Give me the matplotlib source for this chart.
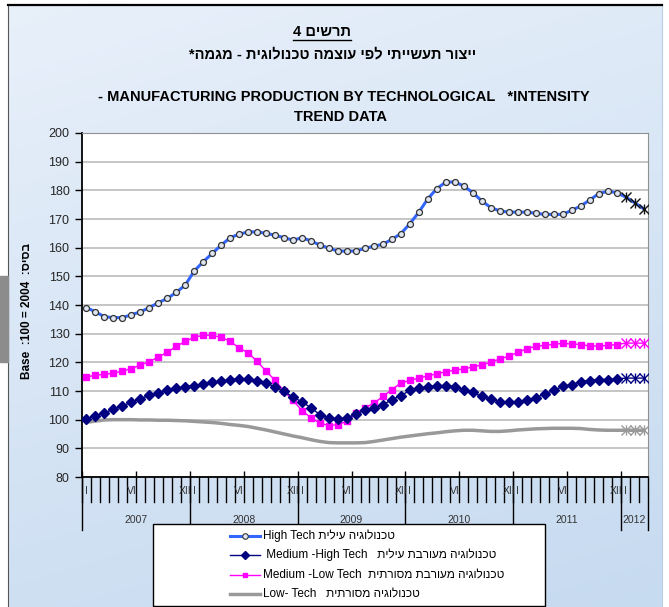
import numpy as np
import matplotlib
matplotlib.use('Agg')
import matplotlib.pyplot as plt
from matplotlib.lines import Line2D
from matplotlib.patches import Rectangle

# figure size in pixels (dpi 100)
W, H = 669, 607

years = ['2007', '2008', '2009', '2010', '2011', '2012']
months_in_year = [12, 12, 12, 12, 12, 3]
month_labels = {0: 'I', 5: 'VI', 11: 'XII'}

# monthly trend index, Jan 2007 - Mar 2012 (base 2004 = 100)
high_tech = [139.1, 137.6, 135.9, 135.6, 135.6, 136.6, 137.6, 139.1, 140.8, 142.3,
             144.4, 147.0, 151.9, 155.1, 158.0, 160.9, 163.5, 164.7, 165.5, 165.5,
             165.0, 164.3, 163.5, 162.6, 163.5, 162.3, 160.9, 159.8, 158.8, 158.8,
             158.8, 159.8, 160.5, 161.2, 162.9, 164.9, 168.4, 172.4, 177.1, 180.6,
             182.9, 182.9, 181.5, 179.2, 176.3, 174.0, 172.8, 172.4, 172.4, 172.4,
             172.0, 171.6, 171.6, 171.6, 173.0, 174.5, 176.6, 178.8, 179.7, 179.2,
             177.7, 175.7, 173.6]
med_high = [100.2, 101.4, 102.3, 103.7, 104.9, 106.0, 107.3, 108.5, 109.3, 110.2,
            110.9, 111.4, 111.9, 112.4, 113.0, 113.4, 114.0, 114.2, 114.2, 113.4,
            112.8, 111.4, 109.9, 107.8, 106.2, 104.1, 101.7, 100.6, 100.2, 100.6,
            102.0, 103.3, 103.9, 105.2, 107.0, 108.4, 110.2, 111.0, 111.4, 111.9,
            111.9, 111.4, 110.5, 109.5, 108.1, 107.2, 106.2, 106.0, 106.1, 106.7,
            107.6, 109.0, 110.2, 111.6, 112.2, 113.3, 113.6, 114.0, 114.0, 114.2,
            114.5, 114.5, 114.5]
med_low = [114.9, 115.5, 115.8, 116.2, 117.0, 117.8, 119.1, 120.2, 121.9, 123.5,
           125.6, 127.3, 128.8, 129.4, 129.4, 128.7, 127.3, 125.0, 123.3, 120.3,
           116.9, 113.7, 109.9, 106.7, 103.1, 100.6, 98.8, 97.9, 98.3, 99.4,
           102.3, 104.1, 105.8, 108.1, 110.5, 112.8, 113.7, 114.5, 115.3, 116.0,
           116.7, 117.3, 117.7, 118.4, 119.1, 120.0, 121.2, 122.1, 123.5, 124.7,
           125.6, 125.9, 126.3, 126.6, 126.4, 126.2, 125.7, 125.7, 125.9, 126.2,
           126.7, 126.7, 126.7]
low_tech = [99.1, 99.5, 99.9, 100.0, 100.0, 100.0, 99.9, 99.9, 99.8, 99.8,
            99.7, 99.6, 99.4, 99.2, 99.0, 98.7, 98.3, 98.0, 97.6, 97.0,
            96.4, 95.7, 95.0, 94.3, 93.7, 93.0, 92.4, 92.0, 91.9, 91.9,
            91.9, 92.0, 92.4, 92.9, 93.4, 93.9, 94.3, 94.7, 95.1, 95.4,
            95.8, 96.1, 96.3, 96.3, 96.1, 95.9, 95.9, 96.1, 96.4, 96.6,
            96.8, 96.9, 97.0, 97.0, 97.0, 96.9, 96.6, 96.4, 96.3, 96.3,
            96.3, 96.3, 96.3]
n_prelim = 3  # last months drawn with asterisk markers


def heb(s):
    # matplotlib has no bidi support, so hebrew is laid out reversed
    return s[::-1]


legend_labels = ['High Tech ' + heb('טכנולוגיה עילית'),
                 ' Medium -High Tech   ' + heb('טכנולוגיה מעורבת עילית'),
                 'Medium -Low Tech  ' + heb('טכנולוגיה מעורבת מסורתית'),
                 'Low- Tech   ' + heb('טכנולוגיה מסורתית')]

FONT = ['Liberation Sans', 'DejaVu Sans']
plt.rcParams['font.family'] = FONT


def fx(px):
    return px / W


def fy(py):
    return 1 - py / H


fig = plt.figure(figsize=(W / 100, H / 100), dpi=100)
fig.patch.set_facecolor('white')

# chart area with light blue gradient
bg = fig.add_axes([fx(8), 0, fx(662) - fx(8), fy(5)], zorder=-5)
yy, xx = np.mgrid[0:1:200j, 0:1:200j]
t = 0.75 * yy + 0.25 * xx
c_top = np.array([232, 240, 250]) / 255
c_bot = np.array([198, 218, 240]) / 255
img = c_top[None, None, :] * (1 - t[..., None]) + c_bot[None, None, :] * t[..., None]
bg.imshow(img, aspect='auto', extent=[0, 1, 0, 1])
bg.set_xticks([])
bg.set_yticks([])
bg.spines['top'].set_color('black')
bg.spines['top'].set_linewidth(1.6)
bg.spines['left'].set_color('#555555')
bg.spines['right'].set_color('#b8cce4')
bg.spines['bottom'].set_visible(False)

fig.add_artist(Rectangle((0, fy(362)), fx(8), (362 - 276) / H,
                         transform=fig.transFigure, color='#8c8c8c'))

# titles
t1 = fig.text(fx(322), fy(32), heb('תרשים 4'), ha='center', va='center',
              fontsize=10.5, fontweight='bold')
fig.text(fx(333), fy(54), heb('ייצור תעשייתי לפי עוצמה טכנולוגית - מגמה*'),
         ha='center', va='center', fontsize=10.5, fontweight='bold')
fig.text(fx(344), fy(97), '- MANUFACTURING PRODUCTION BY TECHNOLOGICAL   *INTENSITY',
         ha='center', va='center', fontsize=10.5, fontweight='bold')
fig.text(fx(341), fy(117), 'TREND DATA', ha='center', va='center',
         fontsize=10.5, fontweight='bold')

fig.text(fx(27), fy(311), 'Base  :100 = 2004  :' + heb('בסיס'), rotation=90,
         ha='center', va='center', fontsize=8.5, fontweight='bold')

# plot area
ax = fig.add_axes([fx(82), fy(477), fx(648) - fx(82), (477 - 133) / H])
n = len(high_tech)
x = np.arange(n) + 0.5
last = slice(n - n_prelim, n)


def asterisk(vals, color):
    ax.plot(x[last], vals[last], ls='none', marker='x', ms=6.5, mew=1, color=color, zorder=4)
    ax.plot(x[last], vals[last], ls='none', marker='|', ms=7.5, mew=1, color=color, zorder=4)


hi = np.array(high_tech)
mh = np.array(med_high)
ml = np.array(med_low)
lo = np.array(low_tech)

ax.plot(x, lo, color='#999999', lw=2.5, zorder=3)
asterisk(lo, '#999999')
ax.plot(x, ml, color='#ff00ff', lw=1, marker='s', ms=3.8, markevery=slice(0, n - n_prelim),
        zorder=3)
asterisk(ml, '#ff00ff')
ax.plot(x, mh, color='#000080', lw=1, marker='D', ms=5, markevery=slice(0, n - n_prelim),
        zorder=3)
asterisk(mh, '#000080')
ax.plot(x, hi, color='#3366ff', lw=2.2, marker='o', ms=4.3, mfc='#dfe6f2', mec='#333333',
        mew=0.9, markevery=slice(0, n - n_prelim), zorder=3)
asterisk(hi, '#111111')

ax.set_xlim(0, n)
ax.set_ylim(80, 200)
ax.set_yticks(range(80, 201, 10))
ax.yaxis.grid(True, color='#c0c0c0', lw=1.3)
ax.set_axisbelow(True)
ax.tick_params(axis='y', direction='out', length=5, width=1, labelsize=9,
               labelcolor='#262626', pad=4)
ax.set_xticks(np.arange(0, n + 1, 6))
ax.tick_params(axis='x', direction='in', length=4, width=1, labelbottom=False)
ax.spines['left'].set_linewidth(1.3)
ax.spines['bottom'].set_linewidth(1.3)
ax.spines['top'].set_color('#909090')
ax.spines['right'].set_color('#909090')

# two-level category labels below the plot
tr = ax.get_xaxis_transform()


def ay(py):
    return (477 - py) / (477 - 133)


start = 0
for yr, m in zip(years, months_in_year):
    ax.plot([start, start], [0, ay(530)], color='black', lw=1, transform=tr, clip_on=False)
    for k in range(m):
        ax.plot([start + k, start + k], [0, ay(502)], color='black', lw=1, transform=tr,
                clip_on=False)
        if k in month_labels:
            ax.text(start + k + 0.5, ay(491), month_labels[k], transform=tr, ha='center',
                    va='center', fontsize=7.5, color='#333333')
    ax.text(start + m / 2, ay(520), yr, transform=tr, ha='center', va='center',
            fontsize=7.5, color='#333333')
    start += m
ax.plot([start, start], [0, ay(530)], color='black', lw=1, transform=tr, clip_on=False)

# legend box
fig.add_artist(Rectangle((fx(153), fy(606)), (545 - 153) / W, (606 - 524) / H,
                         transform=fig.transFigure, fc='white', ec='black', lw=1, zorder=5))
styles = [dict(color='#3366ff', lw=2.2, marker='o', ms=4, mfc='#dfe6f2', mec='#333333', mew=0.8),
          dict(color='#000080', lw=1, marker='D', ms=4.5),
          dict(color='#ff00ff', lw=1, marker='s', ms=3.5),
          dict(color='#999999', lw=2.5)]
for row_y, lab, st in zip([536, 555, 575, 594], legend_labels, styles):
    line = Line2D([fx(230), fx(260)], [fy(row_y), fy(row_y)], transform=fig.transFigure,
                  zorder=6, **{k: v for k, v in st.items() if not k.startswith('m')})
    fig.add_artist(line)
    if 'marker' in st:
        fig.add_artist(Line2D([fx(245)], [fy(row_y)], transform=fig.transFigure, ls='none',
                              zorder=7, color=st['color'],
                              **{k: v for k, v in st.items() if k.startswith('m')}))
    fig.text(fx(263), fy(row_y), lab, ha='left', va='center', fontsize=8.5, zorder=7)

# underline under the figure number
fig.canvas.draw()
bb = t1.get_window_extent().transformed(fig.transFigure.inverted())
fig.add_artist(Line2D([bb.x0, bb.x1], [bb.y0 - 0.002, bb.y0 - 0.002],
                      transform=fig.transFigure, color='black', lw=1))

fig.savefig('out.png', dpi=100)
